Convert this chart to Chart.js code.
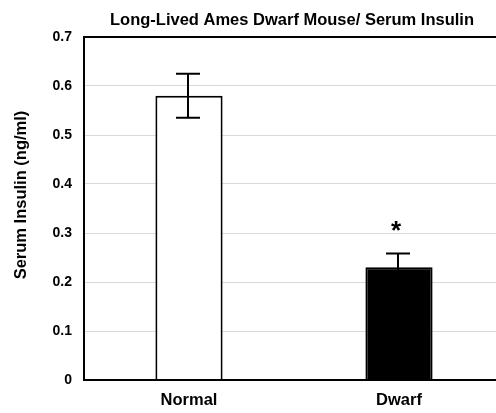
<!DOCTYPE html>
<html>
<head>
<meta charset="utf-8">
<script src="https://cdn.jsdelivr.net/npm/chart.js@4"></script>
<style>
  html, body { margin: 0; padding: 0; background: #fff; overflow: hidden; }
  #wrap { position: relative; width: 510px; height: 413px; }
</style>
</head>
<body>
<div id="wrap"><canvas id="insulinChart"></canvas></div>
<script>
'use strict';

// ********************* DATA *********************

let groups = ['Normal', 'Dwarf'];
let insulinMeans = [0.58, 0.23];
let insulinErrors = [0.045, 0.028];
let sigMarks = ['', '*'];
let barFills = ['#ffffff', '#000000'];
let yTicks = [0, 0.1, 0.2, 0.3, 0.4, 0.5, 0.6, 0.7];

const FONT = 'Arial, "Liberation Sans", Helvetica, sans-serif';

// ********************* PLUGINS *********************

// black frame around the plot area
let frame = {
  id: 'frame',
  afterDraw(chart) {
    const a = chart.chartArea;
    const c = chart.ctx;
    c.save();
    c.strokeStyle = '#000';
    c.lineWidth = 2;
    c.strokeRect(a.left, a.top, a.right - a.left, a.bottom - a.top);
    c.restore();
  }
};

// error bars + significance star
let errorBars = {
  id: 'errorBars',
  afterDatasetsDraw(chart) {
    const c = chart.ctx;
    const y = chart.scales.y;
    const meta = chart.getDatasetMeta(0);
    c.save();
    c.strokeStyle = '#000';
    c.lineWidth = 2;
    meta.data.forEach((bar, i) => {
      const x = bar.x - 1;
      const hi = y.getPixelForValue(insulinMeans[i] + insulinErrors[i]);
      const lo = y.getPixelForValue(insulinMeans[i] - insulinErrors[i]);
      c.beginPath();
      c.moveTo(x, hi);
      c.lineTo(x, lo);
      c.moveTo(x - 12, hi);
      c.lineTo(x + 12, hi);
      c.moveTo(x - 12, lo);
      c.lineTo(x + 12, lo);
      c.stroke();
      if (sigMarks[i]) {
        c.fillStyle = '#000';
        c.font = 'bold 26px ' + FONT;
        c.textAlign = 'center';
        c.textBaseline = 'middle';
        c.fillText(sigMarks[i], x - 2, hi - 22);
      }
    });
    c.restore();
  }
};

// chart title and y-axis title
let titles = {
  id: 'titles',
  afterDraw(chart) {
    const a = chart.chartArea;
    const c = chart.ctx;
    c.save();
    c.fillStyle = '#000';
    c.font = 'bold 16.5px ' + FONT;
    c.textAlign = 'center';
    c.textBaseline = 'middle';
    c.fillText('Long-Lived Ames Dwarf Mouse/ Serum Insulin', 292, 20);
    c.translate(21, 195);
    c.rotate(-Math.PI / 2);
    c.fillText('Serum Insulin (ng/ml)', 0, 0);
    c.restore();
  }
};

// ********************* CHART *********************

let ctx = document.getElementById('insulinChart');

new Chart(ctx, {
  type: 'bar',
  data: {
    labels: groups,
    datasets: [{
      data: insulinMeans,
      backgroundColor: barFills,
      borderColor: '#000',
      borderWidth: 2,
      borderSkipped: 'bottom',
      barPercentage: 0.32,
      categoryPercentage: 1
    }]
  },
  options: {
    responsive: true,
    maintainAspectRatio: false,
    animation: false,
    layout: { padding: { left: 0, right: 6, top: 37, bottom: 0 } },
    plugins: {
      legend: { display: false },
      tooltip: { enabled: false }
    },
    scales: {
      x: {
        grid: { display: false, drawTicks: false },
        border: { color: '#000', width: 2 },
        ticks: { color: '#000', font: { family: FONT, size: 16.5, weight: 'bold' }, padding: 11 },
        afterFit(scale) { scale.height = 33; }
      },
      y: {
        min: 0,
        max: 0.7,
        afterBuildTicks(scale) { scale.ticks = yTicks.map(v => ({ value: v })); },
        grid: { color: '#d9d9d9', lineWidth: 1, drawTicks: false },
        border: { color: '#000', width: 2 },
        ticks: {
          color: '#000',
          font: { family: FONT, size: 14, weight: 'bold' },
          padding: 12,
          callback: v => String(v)
        },
        afterFit(scale) { scale.width = 84; }
      }
    }
  },
  plugins: [frame, errorBars, titles]
});
</script>
</body>
</html>
